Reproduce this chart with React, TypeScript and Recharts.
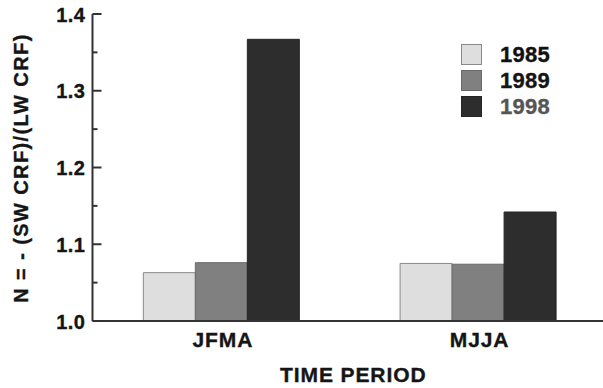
import React from 'react';
import { BarChart, Bar, XAxis, YAxis, Legend, Label } from 'recharts';

const periods = ['JFMA', 'MJJA'];
const years = ['1985', '1989', '1998'];
const n1985 = [1.063, 1.075];
const n1989 = [1.076, 1.074];
const n1998 = [1.367, 1.142];
const yTicks = [1.0, 1.05, 1.1, 1.15, 1.2, 1.25, 1.3, 1.35, 1.4];
const midTicks = [1];

const data = periods.map((p, i) => ({
  period: p,
  y1985: n1985[i],
  y1989: n1989[i],
  y1998: n1998[i],
}));

const FONT = '"Liberation Sans", Arial, Helvetica, sans-serif';
const AXIS = '#333333';
const TEXT = '#151515';
const fills = ['#dedede', '#808080', '#2d2d2d'];
const strokes = ['#8a8a8a', '#6a6a6a', '#252525'];
const legendText = ['#111111', '#151515', '#555555'];

const isMajor = (v: number) => Math.round(v * 100) % 10 === 0;

const LeftTick = (props: any) => {
  const { x, y, payload } = props;
  const v = payload.value as number;
  const major = isMajor(v);
  return (
    <g>
      <line x1={x} x2={x + (major ? 9 : 5)} y1={y} y2={y} stroke={AXIS} strokeWidth={2} />
      {major && (
        <text x={x - 7} y={y + 7.5} textAnchor="end" fontFamily={FONT} fontWeight="bold" fontSize={20} letterSpacing={0.5} fill={TEXT} stroke={TEXT} strokeWidth={0.35}>
          {v.toFixed(1)}
        </text>
      )}
    </g>
  );
};

const RightTick = (props: any) => {
  const { x, y, payload } = props;
  const major = isMajor(payload.value as number);
  return <line x1={x} x2={x - (major ? 9 : 5)} y1={y} y2={y} stroke={AXIS} strokeWidth={2} />;
};

const MidTick = (props: any) => {
  const { x, y } = props;
  return <line x1={x} x2={x} y1={y} y2={y - 9} stroke={AXIS} strokeWidth={2} />;
};

const CatTick = (props: any) => {
  const { x, y, payload } = props;
  return (
    <text x={x + 2} y={y + 25.5} textAnchor="middle" fontFamily={FONT} fontWeight="bold" fontSize={21} letterSpacing={0.9} fill={TEXT} stroke={TEXT} strokeWidth={0.35}>
      {payload.value}
    </text>
  );
};

const YTitle = (props: any) => {
  const vb = props.viewBox || { x: 0, y: 14, width: 92, height: 307 };
  const cx = vb.x + 27.5;
  const cy = vb.y + vb.height / 2 + 0.5;
  return (
    <text transform={`translate(${cx},${cy}) rotate(-90)`} textAnchor="middle" fontFamily={FONT} fontWeight="bold" fontSize={20} letterSpacing={1.4} fill={TEXT} stroke={TEXT} strokeWidth={0.35}>
      N = - (SW CRF)/(LW CRF)
    </text>
  );
};

const XTitle = (props: any) => {
  const vb = props.viewBox || { x: 92, y: 321, width: 513, height: 67 };
  return (
    <text x={vb.x + vb.width / 2 + 4} y={vb.y + 61} textAnchor="middle" fontFamily={FONT} fontWeight="bold" fontSize={21} letterSpacing={0.9} fill={TEXT} stroke={TEXT} strokeWidth={0.35}>
      TIME PERIOD
    </text>
  );
};

const LegendContent = (props: any) => {
  const payload = props.payload || [];
  return (
    <div style={{ fontFamily: FONT }}>
      {payload.map((entry: any, i: number) => (
        <div key={entry.value} style={{ display: 'flex', alignItems: 'center', height: 21, marginBottom: 4.8 }}>
          <div
            style={{
              width: 19,
              height: 19,
              background: fills[i],
              border: `1px solid ${strokes[i]}`,
            }}
          />
          <span
            style={{
              marginLeft: 18,
              fontSize: 22,
              fontWeight: 'bold',
              lineHeight: '21px',
              letterSpacing: 0.3,
              color: legendText[i],
              WebkitTextStroke: `0.35px ${legendText[i]}`,
            }}
          >
            {entry.value}
          </span>
        </div>
      ))}
    </div>
  );
};

export default function App() {
  return (
    <div style={{ position: 'absolute', left: 0, top: 0, width: 603, height: 388, overflow: 'hidden', background: '#fff' }}>
      <BarChart
        width={610}
        height={388}
        data={data}
        margin={{ top: 14, right: 4, bottom: 0, left: 0 }}
        barCategoryGap="19.8%"
        barGap={0}
      >
        <XAxis
          xAxisId="mid"
          type="number"
          domain={[0, 2]}
          ticks={midTicks}
          orientation="bottom"
          height={0}
          axisLine={false}
          tickLine={false}
          tickSize={0}
          tickMargin={0}
          tick={MidTick}
          allowDataOverflow
        />
        <XAxis
          xAxisId="main"
          dataKey="period"
          orientation="bottom"
          height={67}
          axisLine={{ stroke: AXIS, strokeWidth: 2 }}
          tickLine={false}
          tickSize={0}
          tickMargin={0}
          tick={CatTick}
        >
          <Label content={XTitle} />
        </XAxis>
        <XAxis
          xAxisId="top"
          dataKey="period"
          orientation="top"
          height={0}
          axisLine={{ stroke: AXIS, strokeWidth: 2 }}
          tickLine={false}
          tick={false}
        />
        <YAxis
          yAxisId="L"
          orientation="left"
          width={92.5}
          domain={[1, 1.4]}
          ticks={yTicks}
          allowDataOverflow
          interval={0}
          axisLine={{ stroke: AXIS, strokeWidth: 2 }}
          tickLine={false}
          tickSize={0}
          tickMargin={0}
          tick={LeftTick}
        >
          <Label content={YTitle} />
        </YAxis>
        <YAxis
          yAxisId="R"
          orientation="right"
          width={0}
          domain={[1, 1.4]}
          ticks={yTicks}
          allowDataOverflow
          interval={0}
          axisLine={{ stroke: AXIS, strokeWidth: 2 }}
          tickLine={false}
          tickSize={0}
          tickMargin={0}
          tick={RightTick}
        />
        <Legend
          layout="vertical"
          align="center"
          verticalAlign="middle"
          wrapperStyle={{ left: 461, top: 44, width: 130, height: 80 }}
          content={LegendContent}
        />
        <Bar xAxisId="main" yAxisId="L" dataKey="y1985" name={years[0]} fill={fills[0]} stroke={strokes[0]} strokeWidth={1} isAnimationActive={false} />
        <Bar xAxisId="main" yAxisId="L" dataKey="y1989" name={years[1]} fill={fills[1]} stroke={strokes[1]} strokeWidth={1} isAnimationActive={false} />
        <Bar xAxisId="main" yAxisId="L" dataKey="y1998" name={years[2]} fill={fills[2]} stroke={strokes[2]} strokeWidth={1} isAnimationActive={false} />
      </BarChart>
    </div>
  );
}
